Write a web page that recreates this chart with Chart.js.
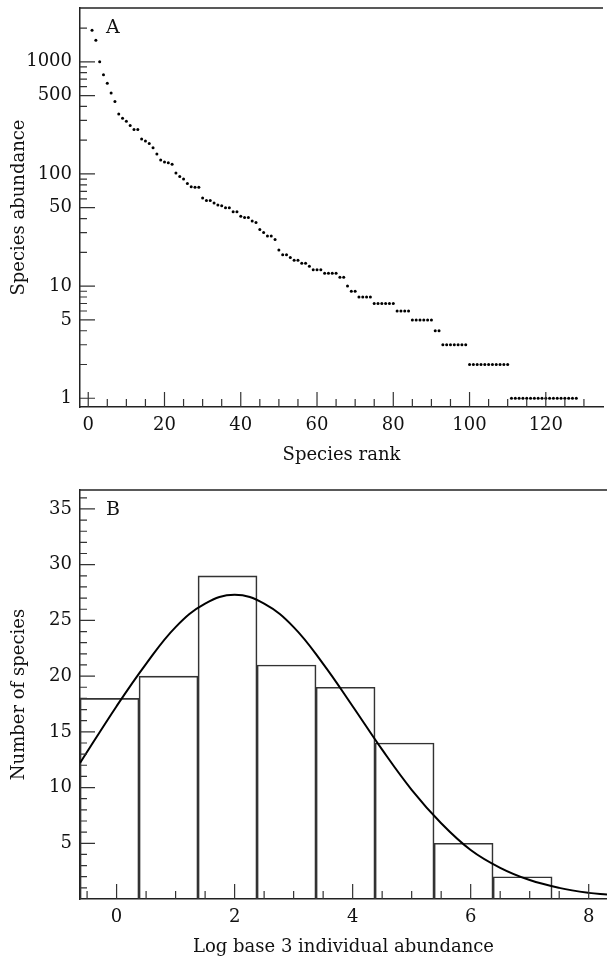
<!DOCTYPE html>
<html>
<head>
<meta charset="utf-8">
<script src="https://cdn.jsdelivr.net/npm/chart.js@4.4.1/dist/chart.umd.min.js"></script>
<style>
  body { margin: 0; background: #fff; }
  canvas { position: absolute; left: 0; }
  #chartA { top: 0; }
  #chartB { top: 480px; }
</style>
</head>
<body>
<canvas id="chartA" width="607" height="480"></canvas>
<canvas id="chartB" width="607" height="481"></canvas>
<script>
// ---- Panel A: rank / abundance ----
const abundance = [
  1915, 1560, 1000, 766, 644, 528, 442, 343, 314, 295,
  270, 249, 249, 205, 197, 187, 171, 151, 133, 128,
  126, 122, 102, 95, 90, 82, 77, 76, 76, 61,
  58, 58, 55, 53, 52, 50, 50, 46, 46, 42,
  41, 41, 38, 37, 32, 30, 28, 28, 26, 21,
  19, 19, 18, 17, 17, 16, 16, 15, 14, 14,
  14, 13, 13, 13, 13, 12, 12, 10, 9, 9,
  8, 8, 8, 8, 7, 7, 7, 7, 7, 7,
  6, 6, 6, 6, 5, 5, 5, 5, 5, 5,
  4, 4, 3, 3, 3, 3, 3, 3, 3, 2,
  2, 2, 2, 2, 2, 2, 2, 2, 2, 2,
  1, 1, 1, 1, 1, 1, 1, 1, 1, 1,
  1, 1, 1, 1, 1, 1, 1, 1
];
const rankTicks = [0, 20, 40, 60, 80, 100, 120];
const rankMinor = [5, 10, 15, 25, 30, 35, 45, 50, 55, 65, 70, 75, 85, 90, 95, 105, 110, 115, 125, 130];
const abundTicks = [1, 5, 10, 50, 100, 500, 1000];
const abundMinor = [2, 3, 4, 6, 7, 8, 9, 20, 30, 40, 60, 70, 80, 90,
                    200, 300, 400, 600, 700, 800, 900, 2000];

// ---- Panel B: log3 abundance histogram ----
const binCenters = [-0.12, 0.88, 1.88, 2.88, 3.88, 4.88, 5.88, 6.88];
const binCounts = [18, 20, 29, 21, 19, 14, 5, 2];
const curveX = [-0.62, 0, 0.5, 1, 1.5, 2, 2.5, 3, 3.5, 4, 4.5, 5, 5.5, 6, 6.5, 7, 7.5, 8, 8.31];
const curveY = [12.2, 17.3, 21.1, 24.4, 26.5, 27.3, 26.5, 24.4, 21.1, 17.3, 13.4, 9.8, 6.8, 4.4, 2.8, 1.7, 1.0, 0.55, 0.4];
const log3Ticks = [0, 2, 4, 6, 8];
const log3Minor = [-0.5, 0.5, 1, 1.5, 2.5, 3, 3.5, 4.5, 5, 5.5, 6.5, 7, 7.5];
const countTicks = [5, 10, 15, 20, 25, 30, 35];
const countMinor = [1, 2, 3, 4, 6, 7, 8, 9, 11, 12, 13, 14, 16, 17, 18, 19, 21, 22, 23, 24,
                    26, 27, 28, 29, 31, 32, 33, 34, 36];

const INK = '#111';
const font = { family: '"DejaVu Serif", serif', size: 18 };

// top frame line, inward tick marks and the panel letter
const frameTicks = {
  id: 'frameTicks',
  afterDatasetsDraw(chart, args, opts) {
    const { ctx, chartArea: a, scales } = chart;
    ctx.save();
    ctx.strokeStyle = '#222';
    ctx.lineWidth = 1.4;
    ctx.beginPath();
    ctx.moveTo(a.left, a.top);
    ctx.lineTo(a.right, a.top);
    ctx.stroke();

    ctx.strokeStyle = '#333';
    ctx.lineWidth = 1.2;
    ctx.beginPath();
    const xt = (vals, len) => vals.forEach(v => {
      const px = scales.x.getPixelForValue(v);
      ctx.moveTo(px, a.bottom);
      ctx.lineTo(px, a.bottom - len);
    });
    const yt = (vals, len) => vals.forEach(v => {
      const py = scales.y.getPixelForValue(v);
      ctx.moveTo(a.left, py);
      ctx.lineTo(a.left + len, py);
    });
    xt(opts.xMajor, 15); xt(opts.xMinor, 8);
    yt(opts.yMajor, 15); yt(opts.yMinor, 7);
    ctx.stroke();

    ctx.fillStyle = INK;
    ctx.font = '19px "DejaVu Serif"';
    ctx.textBaseline = 'middle';
    ctx.textAlign = 'left';
    ctx.fillText(opts.letter, a.left + 26, a.top + 20);
    ctx.restore();
  }
};

// no extra room for overhanging tick labels: the plot box is fixed by layout padding
const noPad = s => { s.paddingTop = 0; s.paddingBottom = 0; s.paddingLeft = 0; s.paddingRight = 0; };

function axis(extra) {
  return Object.assign({
    grid: { display: false, drawTicks: false },
    border: { color: '#222', width: 1.5 },
    ticks: { color: INK, font, padding: 8, autoSkip: false, maxRotation: 0, callback: v => String(v) }
  }, extra);
}

new Chart(document.getElementById('chartA'), {
  type: 'scatter',
  data: {
    datasets: [{
      data: abundance.map((v, i) => ({ x: i + 1, y: v })),
      pointRadius: 1.5,
      pointBorderWidth: 0,
      pointBackgroundColor: '#000'
    }]
  },
  options: {
    responsive: false,
    animation: false,
    layout: { padding: { top: 8, right: 0, left: 0, bottom: 0 } },
    plugins: {
      legend: { display: false },
      tooltip: { enabled: false },
      frameTicks: { letter: 'A', xMajor: rankTicks, xMinor: rankMinor, yMajor: abundTicks, yMinor: abundMinor }
    },
    scales: {
      x: axis({
        type: 'linear', min: -2.16, max: 135,
        afterBuildTicks: s => { s.ticks = rankTicks.map(v => ({ value: v })); },
        afterFit: s => { s.height = 73; noPad(s); },
        title: { display: true, text: 'Species rank', color: INK, font, padding: { top: 0, bottom: 14 } }
      }),
      y: axis({
        type: 'logarithmic', min: 0.836, max: 3017,
        afterBuildTicks: s => { s.ticks = abundTicks.map(v => ({ value: v })); },
        afterFit: s => { s.width = 80; noPad(s); },
        title: { display: true, text: 'Species abundance', color: INK, font, padding: { top: 9, bottom: 0 } }
      })
    }
  },
  plugins: [frameTicks]
});

new Chart(document.getElementById('chartB'), {
  type: 'bar',
  data: {
    datasets: [{
      type: 'bar',
      data: binCenters.map((x, i) => ({ x, y: binCounts[i] })),
      backgroundColor: 'rgba(0,0,0,0)',
      borderColor: '#333',
      borderWidth: 1,
      barPercentage: 1,
      categoryPercentage: 1,
      order: 2
    }, {
      type: 'line',
      data: curveX.map((x, i) => ({ x, y: curveY[i] })),
      borderColor: '#000',
      borderWidth: 2,
      pointRadius: 0,
      tension: 0.4,
      fill: false,
      order: 1
    }]
  },
  options: {
    responsive: false,
    animation: false,
    layout: { padding: { top: 10, right: 0, left: 0, bottom: 0 } },
    plugins: {
      legend: { display: false },
      tooltip: { enabled: false },
      frameTicks: { letter: 'B', xMajor: log3Ticks, xMinor: log3Minor, yMajor: countTicks, yMinor: countMinor }
    },
    scales: {
      x: axis({
        type: 'linear', min: -0.62, max: 8.31, offset: false,
        afterBuildTicks: s => { s.ticks = log3Ticks.map(v => ({ value: v })); },
        afterFit: s => { s.height = 62; noPad(s); },
        title: { display: true, text: 'Log base 3 individual abundance', color: INK, font, padding: { top: 0, bottom: 3 } }
      }),
      y: axis({
        type: 'linear', min: 0, max: 36.7,
        afterBuildTicks: s => { s.ticks = countTicks.map(v => ({ value: v })); },
        afterFit: s => { s.width = 80; noPad(s); },
        title: { display: true, text: 'Number of species', color: INK, font, padding: { top: 9, bottom: 0 } }
      })
    }
  },
  plugins: [frameTicks]
});
</script>
</body>
</html>
